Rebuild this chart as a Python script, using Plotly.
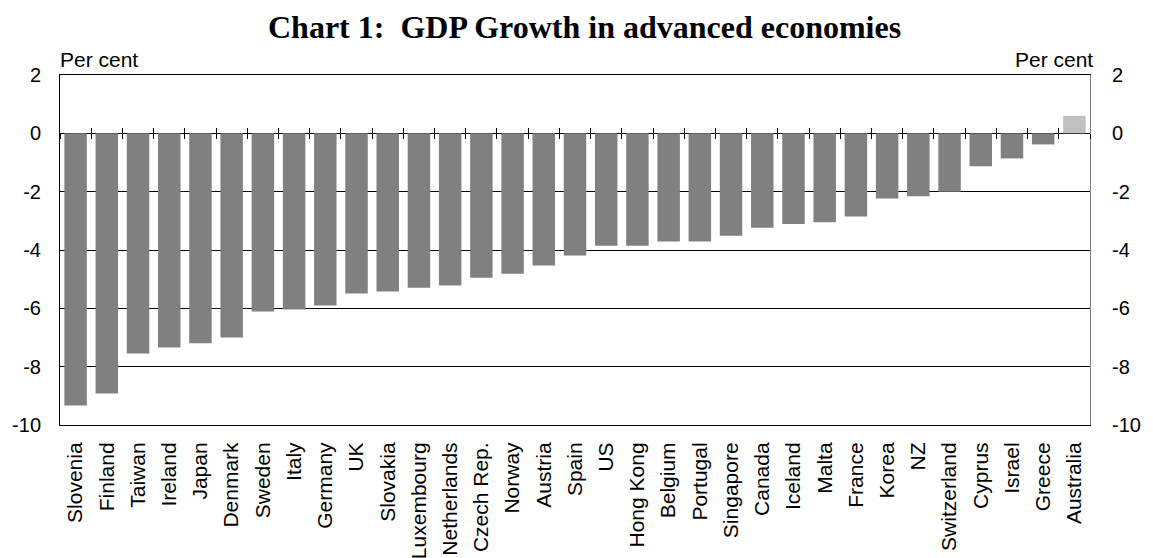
import plotly.graph_objects as go

# GDP growth by economy, per cent
countries = [
    "Slovenia", "Finland", "Taiwan", "Ireland", "Japan", "Denmark", "Sweden",
    "Italy", "Germany", "UK", "Slovakia", "Luxembourg", "Netherlands",
    "Czech Rep.", "Norway", "Austria", "Spain", "US", "Hong Kong", "Belgium",
    "Portugal", "Singapore", "Canada", "Iceland", "Malta", "France", "Korea",
    "NZ", "Switzerland", "Cyprus", "Israel", "Greece", "Australia",
]
growth = [
    -9.33, -8.92, -7.55, -7.34, -7.20, -7.00, -6.11,
    -6.04, -5.90, -5.49, -5.42, -5.29, -5.22,
    -4.95, -4.81, -4.53, -4.19, -3.85, -3.85, -3.71,
    -3.71, -3.51, -3.24, -3.11, -3.05, -2.85, -2.23,
    -2.16, -2.00, -1.13, -0.86, -0.38, 0.60,
]
y_ticks = [2, 0, -2, -4, -6, -8, -10]
y_range = [-10, 2]

n = len(countries)
positions = list(range(n))
boundaries = [i - 0.5 for i in range(n + 1)]
bar_colors = ["#c0c0c0" if v > 0 else "#808080" for v in growth]

FONT = "Liberation Sans, Arial, sans-serif"
tick_font = dict(family=FONT, size=20, color="black")

fig = go.Figure()
fig.add_trace(go.Bar(
    x=positions, y=growth, width=0.72,
    marker=dict(color=bar_colors, line=dict(width=0)),
    showlegend=False, hoverinfo="skip",
))
# empty traces so the zero-line tick axes and right value axis are drawn
fig.add_trace(go.Scatter(x=[], y=[], xaxis="x2", yaxis="y", showlegend=False))
fig.add_trace(go.Scatter(x=[], y=[], xaxis="x3", yaxis="y", showlegend=False))
fig.add_trace(go.Scatter(x=[], y=[], xaxis="x", yaxis="y2", showlegend=False))

x_range = [-0.5, n - 0.5]
zero_pos = (0 - y_range[0]) / (y_range[1] - y_range[0])

fig.update_layout(
    width=1153, height=558,
    margin=dict(l=58, r=50, t=75, b=133),
    paper_bgcolor="white", plot_bgcolor="white",
    title=dict(
        text="Chart 1:\u00a0 GDP Growth in advanced economies",
        font=dict(family="Liberation Serif, Times New Roman, serif", size=32,
                  color="black", weight="bold"),
        x=0.507, xref="container", xanchor="center",
        y=1 - 27 / 558, yref="container", yanchor="middle",
    ),
    xaxis=dict(
        range=x_range, tickmode="array", tickvals=positions, ticktext=countries,
        tickangle=-90, tickfont=dict(family=FONT, size=21, color="black"),
        ticks="", ticklabelstandoff=8, automargin=False,
        showgrid=False, zeroline=False,
        showline=True, linecolor="black", linewidth=1, mirror=True,
    ),
    xaxis2=dict(
        range=x_range, overlaying="x", anchor="free", position=zero_pos,
        tickmode="array", tickvals=boundaries, ticks="inside", ticklen=5,
        tickcolor="black", tickwidth=1, showticklabels=False,
        showgrid=False, zeroline=False, showline=False,
    ),
    xaxis3=dict(
        range=x_range, overlaying="x", anchor="free", position=zero_pos,
        tickmode="array", tickvals=boundaries, ticks="outside", ticklen=5,
        tickcolor="black", tickwidth=1, showticklabels=False,
        showgrid=False, zeroline=False, showline=False,
    ),
    yaxis=dict(
        range=y_range, tickmode="array", tickvals=y_ticks,
        ticktext=[str(v) for v in y_ticks], tickfont=tick_font,
        ticks="", ticklabelstandoff=14,
        showgrid=True, gridcolor="black", gridwidth=1,
        zeroline=True, zerolinecolor="black", zerolinewidth=1,
        showline=True, linecolor="black", linewidth=1,
    ),
    yaxis2=dict(
        range=y_range, overlaying="y", side="right", anchor="x",
        tickmode="array", tickvals=y_ticks,
        ticktext=[str(v) for v in y_ticks], tickfont=tick_font,
        ticks="", ticklabelstandoff=17,
        showgrid=False, zeroline=False,
        showline=True, linecolor="#808080", linewidth=1,
    ),
    annotations=[
        dict(text="Per cent", xref="paper", yref="paper", x=0, y=1,
             xanchor="left", yanchor="bottom", xshift=-2, yshift=2,
             showarrow=False, font=dict(family=FONT, size=21, color="black")),
        dict(text="Per cent", xref="paper", yref="paper", x=1, y=1,
             xanchor="right", yanchor="bottom", xshift=5, yshift=2,
             showarrow=False, font=dict(family=FONT, size=21, color="black")),
    ],
)

fig.write_html("out.html")
